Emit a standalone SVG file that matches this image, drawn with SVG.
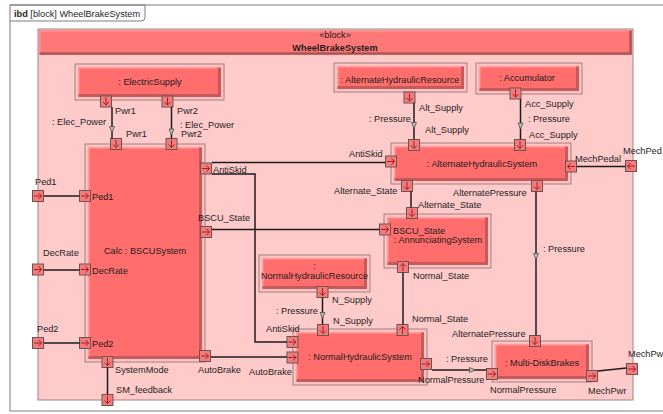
<svg xmlns="http://www.w3.org/2000/svg" width="663" height="414" viewBox="0 0 663 414">
<style>
text{font-family:"Liberation Sans",Arial,sans-serif;font-size:9.2px;fill:#1e1e1e}
.b{font-weight:bold}
.m{text-anchor:middle}
.frame{fill:none;stroke:#7c7c7c;stroke-width:1}
.bb{fill:#ffc2c2;stroke:#a08282;stroke-width:1}
.bf{fill:#ff6d6d}
.bsh{fill:none;stroke:#c45a5a;stroke-width:3}
.bhl{fill:none;stroke:#ff9c9c;stroke-width:1.5}
.pr{fill:#f27c7c;stroke:#6e5252;stroke-width:1}
.pa{fill:none;stroke:#a81c1c;stroke-width:1}
.ln{fill:none;stroke:#1c1c1c;stroke-width:1.5}
.tri{fill:#bdbdbd;stroke:#4e4e4e;stroke-width:0.8}
</style>
<defs>
<g id="pD"><rect class="pr" x="-5.5" y="-5.5" width="11" height="11"/><path class="pa" d="M0,-4V3.5M-3,0.5L0,3.5L3,0.5"/></g>
<g id="pU"><rect class="pr" x="-5.5" y="-5.5" width="11" height="11"/><path class="pa" d="M0,4V-3.5M-3,-0.5L0,-3.5L3,-0.5"/></g>
<g id="pR"><rect class="pr" x="-5.5" y="-5.5" width="11" height="11"/><path class="pa" d="M-4,0H3.5M0.5,-3L3.5,0L0.5,3"/></g>
<g id="pL"><rect class="pr" x="-5.5" y="-5.5" width="11" height="11"/><path class="pa" d="M4,0H-3.5M-0.5,-3L-3.5,0L-0.5,3"/></g>
<path id="tD" class="tri" d="M-2.5,-3L2.5,-3L0,3Z"/>
<path id="tR" class="tri" d="M-3,-2.5L-3,2.5L3,0Z"/>
</defs>
<rect x="0" y="0" width="663" height="414" fill="#ffffff"/>
<g id="frame">
<rect class="frame" x="10" y="5" width="660" height="406"/>
<path class="frame" d="M10,5H145V17Q145,21 141,21H10" fill="#ffffff"/>
<text x="14" y="17"><tspan class="b">ibd</tspan> [block] WheelBrakeSystem</text>
</g>
<g id="WheelBrakeSystem">
<rect class="bb" x="38" y="29" width="595" height="371" style="fill:#ffcaca"/>
<rect x="39" y="30" width="593" height="25" fill="#ff7878"/>
<path d="M630.5,31V53.5H40" fill="none" stroke="#b05656" stroke-width="2.5"/>
<path d="M40,52V31H629" fill="none" stroke="#ffa0a0" stroke-width="1"/>
<text class="m" x="335" y="38">«block»</text>
<text class="m b" x="335" y="51">WheelBrakeSystem</text>
<use href="#pR" x="38" y="196"/>
<use href="#pR" x="38" y="269.5"/>
<use href="#pR" x="38" y="343"/>
<use href="#pD" x="107.5" y="400"/>
<use href="#pL" x="631" y="166"/>
<use href="#pR" x="632" y="369"/>
</g>
<g id="ElectricSupply">
<rect class="bb" x="75" y="64" width="149" height="36"/>
<rect class="bf" x="78" y="67" width="143" height="30"/>
<path class="bsh" d="M219.5,68V95.5H79"/>
<path class="bhl" d="M78.75,94V67.75H218"/>
<text class="m" x="150" y="85">: ElectricSupply</text>
<use href="#pD" x="106" y="101.5"/>
<use href="#pD" x="167.5" y="101.5"/>
</g>
<g id="BSCUSystem">
<rect class="bb" x="85" y="144" width="120" height="218"/>
<rect class="bf" x="88" y="147" width="114" height="212"/>
<path class="bsh" d="M200.5,148V357.5H89"/>
<path class="bhl" d="M88.75,356V147.75H199"/>
<text class="m" x="145" y="254">Calc : BSCUSystem</text>
<use href="#pD" x="116" y="144"/>
<use href="#pD" x="171.5" y="144"/>
<use href="#pR" x="85" y="196"/>
<use href="#pR" x="85" y="269.5"/>
<use href="#pR" x="85" y="343"/>
<use href="#pR" x="206" y="168.5"/>
<use href="#pR" x="206" y="232"/>
<use href="#pR" x="205" y="356"/>
<use href="#pD" x="107.5" y="362"/>
</g>
<g id="AlternateHydraulicResource">
<rect class="bb" x="334" y="63" width="133" height="29"/>
<rect class="bf" x="337" y="66" width="127" height="23"/>
<path class="bsh" d="M462.5,67V87.5H338"/>
<path class="bhl" d="M337.75,86V66.75H461"/>
<text class="m" x="400" y="83">: AlternateHydraulicResource</text>
<use href="#pD" x="409.5" y="97.5"/>
</g>
<g id="Accumulator">
<rect class="bb" x="476" y="63" width="106" height="31"/>
<rect class="bf" x="479" y="66" width="100" height="25"/>
<path class="bsh" d="M577.5,67V89.5H480"/>
<path class="bhl" d="M479.75,88V66.75H576"/>
<text class="m" x="527" y="81">: Accumulator</text>
<use href="#pD" x="515.5" y="93.5"/>
</g>
<g id="AlternateHydraulicSystem">
<rect class="bb" x="391" y="143" width="180" height="41"/>
<rect class="bf" x="394" y="146" width="174" height="35"/>
<path class="bsh" d="M566.5,147V179.5H395"/>
<path class="bhl" d="M394.75,178V146.75H565"/>
<text class="m" x="482" y="167">: AlternateHydraulicSystem</text>
<use href="#pD" x="414" y="145"/>
<use href="#pD" x="520" y="145"/>
<use href="#pR" x="391" y="161.5"/>
<use href="#pL" x="571" y="166.5"/>
<use href="#pD" x="407" y="186"/>
<use href="#pD" x="537" y="186"/>
</g>
<g id="AnnunciatingSystem">
<rect class="bb" x="384" y="214" width="107" height="54"/>
<rect class="bf" x="387" y="217" width="101" height="48"/>
<path class="bsh" d="M486.5,218V263.5H388"/>
<path class="bhl" d="M387.75,262V217.75H485"/>
<text class="m" x="438" y="243">: AnnunciatingSystem</text>
<use href="#pD" x="412" y="213"/>
<use href="#pR" x="385" y="229.5"/>
<use href="#pU" x="403" y="267"/>
</g>
<g id="NormalHydraulicResource">
<rect class="bb" x="259" y="255" width="111" height="37"/>
<rect class="bf" x="262" y="258" width="105" height="31"/>
<path class="bsh" d="M365.5,259V287.5H263"/>
<path class="bhl" d="M262.75,286V258.75H364"/>
<text class="m" x="314.5" y="269">:</text>
<text class="m" x="314.5" y="279">NormalHydraulicResource</text>
<use href="#pD" x="322.5" y="292"/>
</g>
<g id="NormalHydraulicSystem">
<rect class="bb" x="293" y="329" width="134" height="56"/>
<rect class="bf" x="296" y="332" width="128" height="50"/>
<path class="bsh" d="M422.5,333V380.5H297"/>
<path class="bhl" d="M296.75,379V332.75H421"/>
<text class="m" x="360" y="360">: NormalHydraulicSystem</text>
<use href="#pD" x="323" y="330"/>
<use href="#pU" x="402.5" y="330"/>
<use href="#pR" x="292.5" y="342"/>
<use href="#pR" x="292.5" y="357.5"/>
<use href="#pR" x="426" y="364"/>
</g>
<g id="MultiDiskBrakes">
<rect class="bb" x="492" y="341" width="100" height="41"/>
<rect class="bf" x="495" y="344" width="94" height="35"/>
<path class="bsh" d="M587.5,345V377.5H496"/>
<path class="bhl" d="M495.75,376V344.75H586"/>
<text class="m" x="542" y="366">: Multi-DiskBrakes</text>
<use href="#pD" x="535" y="341"/>
<use href="#pR" x="492" y="374"/>
<use href="#pR" x="592" y="376"/>
</g>
<g id="connectors">
<path class="ln" d="M112,107V138.5"/>
<use href="#tD" x="112" y="129.5"/>
<path class="ln" d="M171.5,107V138.5"/>
<use href="#tD" x="171.5" y="132"/>
<path class="ln" d="M44,196H79.5"/>
<path class="ln" d="M44,270H79.5"/>
<path class="ln" d="M44,343H79.5"/>
<path class="ln" d="M212,162.5H385.5"/>
<path class="ln" d="M212,174H255V342H287"/>
<path class="ln" d="M212,229.5H379.5"/>
<path class="ln" d="M211,357H287"/>
<path class="ln" d="M107.5,367.5V394.5"/>
<path class="ln" d="M414,103V139.5"/>
<use href="#tD" x="414" y="125.5"/>
<path class="ln" d="M520.5,99V139.5"/>
<use href="#tD" x="520.5" y="126"/>
<path class="ln" d="M577,166.5H625.5"/>
<path class="ln" d="M411,191.5V207.5"/>
<path class="ln" d="M536,191.5V335.5"/>
<use href="#tD" x="536" y="256.5"/>
<path class="ln" d="M403,324.5V272.5"/>
<path class="ln" d="M322.5,297.5V324.5"/>
<use href="#tD" x="322.5" y="315.5"/>
<path class="ln" d="M432,370H486.5"/>
<use href="#tR" x="472.5" y="370"/>
<path class="ln" d="M598,371L626.5,368"/>
<text x="115" y="114">Pwr1</text>
<text x="52" y="125">: Elec_Power</text>
<text x="126" y="136.5">Pwr1</text>
<text x="177" y="114">Pwr2</text>
<text x="180" y="128">: Elec_Power</text>
<text x="181" y="136.5">Pwr2</text>
<text x="35" y="185">Ped1</text>
<text x="92" y="199.5">Ped1</text>
<text x="43" y="256">DecRate</text>
<text x="92" y="273.5">DecRate</text>
<text x="37" y="331.5">Ped2</text>
<text x="92" y="346.5">Ped2</text>
<text x="213" y="172.5">AntiSkid</text>
<text x="198" y="220.5">BSCU_State</text>
<text x="115" y="373">SystemMode</text>
<text x="116" y="392.5">SM_feedback</text>
<text x="198" y="373">AutoBrake</text>
<text x="249" y="375">AutoBrake</text>
<text x="266" y="331.5">AntiSkid</text>
<text x="276" y="314">: Pressure</text>
<text x="332" y="302.5">N_Supply</text>
<text x="333" y="324">N_Supply</text>
<text x="419" y="111">Alt_Supply</text>
<text x="369" y="122">: Pressure</text>
<text x="425" y="133">Alt_Supply</text>
<text x="525" y="107">Acc_Supply</text>
<text x="528" y="122">: Pressure</text>
<text x="529" y="138">Acc_Supply</text>
<text x="349" y="157">AntiSkid</text>
<text x="575" y="162">MechPedal</text>
<text x="623" y="154">MechPed</text>
<text x="628" y="357">MechPw</text>
<text x="334" y="194">Alternate_State</text>
<text x="453" y="196">AlternatePressure</text>
<text x="418" y="208">Alternate_State</text>
<text x="393" y="234">BSCU_State</text>
<text x="413" y="279">Normal_State</text>
<text x="543" y="252">: Pressure</text>
<text x="412" y="322">Normal_State</text>
<text x="452" y="337">AlternatePressure</text>
<text x="446" y="362">: Pressure</text>
<text x="418" y="383">NormalPressure</text>
<text x="490" y="393">NormalPressure</text>
<text x="588" y="394">MechPwr</text>
</g>
</svg>
